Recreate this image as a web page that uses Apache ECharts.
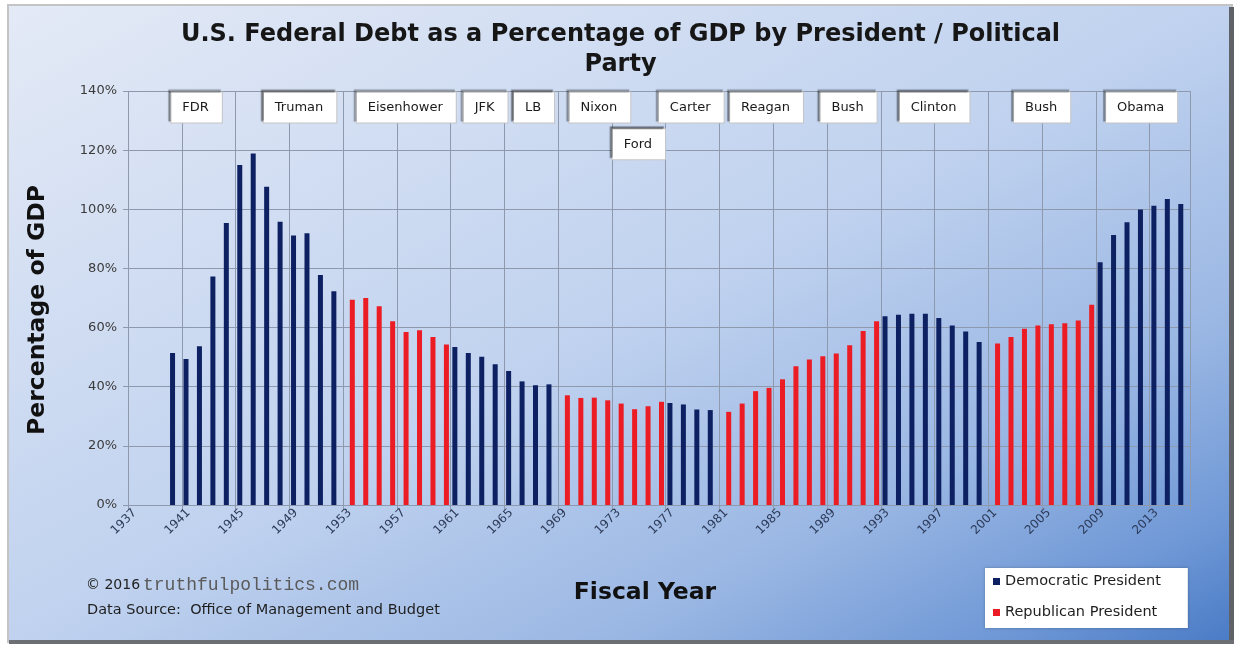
<!DOCTYPE html>
<html>
<head>
<meta charset="utf-8">
<script src="https://cdn.jsdelivr.net/npm/echarts@6/dist/echarts.min.js"></script>
<style>
html,body{margin:0;padding:0;background:#fff;}
#chart{width:1241px;height:646px;}
</style>
</head>
<body>
<div id="chart"></div>
<script>
// ---- DATA ----
const years = [1937,1938,1939,1940,1941,1942,1943,1944,1945,1946,1947,1948,1949,1950,1951,1952,
  1953,1954,1955,1956,1957,1958,1959,1960,1961,1962,1963,1964,1965,1966,1967,1968,
  1969,1970,1971,1972,1973,1974,1975,1976,1977,1978,1979,1980,1981,1982,1983,1984,
  1985,1986,1987,1988,1989,1990,1991,1992,1993,1994,1995,1996,1997,1998,1999,2000,
  2001,2002,2003,2004,2005,2006,2007,2008,2009,2010,2011,2012,2013,2014,2015];

// Gross federal debt, % of GDP
const debtPct = [null,null,null,
  51.4,49.4,53.7,77.3,95.4,115.0,118.9,107.6,95.8,91.1,91.9,77.8,72.3,
  69.4,70.0,67.2,62.1,58.5,59.1,56.8,54.3,
  53.4,51.4,50.1,47.6,45.3,41.8,40.5,40.8,
  37.1,36.2,36.3,35.4,34.3,32.4,33.4,34.9,
  34.5,34.0,32.3,32.1,
  31.5,34.3,38.5,39.6,42.5,46.9,49.2,50.3,51.2,54.0,58.8,62.1,
  63.8,64.3,64.7,64.7,63.2,60.7,58.7,55.1,
  54.6,56.8,59.6,60.7,61.1,61.5,62.4,67.7,
  82.1,91.3,95.6,99.9,101.2,103.5,101.8];

// Party of the president for each fiscal year (D / R, '-' = no bar)
const partyByYear = ('---' + 'DDDDDDDDDDDDD' + 'RRRRRRRR' + 'DDDDDDDD' + 'RRRRRRRR' +
  'DDDD' + 'RRRRRRRRRRRR' + 'DDDDDDDD' + 'RRRRRRRR' + 'DDDDDDD').split('');

const seriesNames = ['Democratic President', 'Republican President'];
const yTicks = [0, 20, 40, 60, 80, 100, 120, 140];

// President label boxes: name, position along the year scale, height on the % scale
const presNames = ['FDR','Truman','Eisenhower','JFK','LB','Nixon','Ford','Carter','Reagan','Bush','Clinton','Bush','Obama'];
const presYear  = [1941.6,1949.3,1957.2,1963.1,1966.7,1971.6,1974.5,1978.4,1984.0,1990.1,1996.5,2004.5,2011.9];
const presLevel = [134.4,134.4,134.4,134.4,134.4,134.4,122.0,134.4,134.4,134.4,134.4,134.4,134.4];

// ---- BUILD ----
const demVals = debtPct.map((v, i) => partyByYear[i] === 'D' ? v : null);
const repVals = debtPct.map((v, i) => partyByYear[i] === 'R' ? v : null);
const presData = presNames.map((n, i) => ({ value: [presYear[i], presLevel[i]], name: n }));

const NAVY = '#0c2062', RED = '#ec1c24', GRID = '#8e99ad';
const FONT = 'DejaVu Sans';

const chart = echarts.init(document.getElementById('chart'), null, { renderer: 'canvas' });

const bgGrad = new echarts.graphic.LinearGradient(8, 5, 529, 1007, [
  { offset: 0, color: '#e4eaf6' }, { offset: 0.5, color: '#c0d2ef' },
  { offset: 0.75, color: '#99b6e3' }, { offset: 0.9, color: '#6f98d6' },
  { offset: 1, color: '#4a7bc6' }], true);

const everyFourth = i => i % 4 === 0;

chart.setOption({
  animation: false,
  title: {
    text: 'U.S. Federal Debt as a Percentage of GDP by President / Political\nParty',
    left: 'center', top: 15,
    textStyle: { fontFamily: FONT, fontSize: 24, fontWeight: 'bold', color: '#161616', lineHeight: 30 }
  },
  graphic: [
    { type: 'rect', z: -100, shape: { x: 8, y: 5, width: 1224, height: 637 },
      style: { fill: bgGrad, stroke: '#c4c4c4', lineWidth: 2 } },
    { type: 'rect', z: -99, shape: { x: 1229, y: 7, width: 5, height: 637 }, style: { fill: '#5f6368' } },
    { type: 'rect', z: -99, shape: { x: 9, y: 640, width: 1225, height: 4 }, style: { fill: '#6c6f74' } },
    { type: 'text', x: 38, y: 310, rotation: Math.PI / 2,
      style: { text: 'Percentage of GDP', font: 'bold 23.5px "DejaVu Sans"', fill: '#111',
               align: 'center', verticalAlign: 'middle', textAlign: 'center', textVerticalAlign: 'middle' } },
    { type: 'text', x: 645, y: 593,
      style: { text: 'Fiscal Year', font: 'bold 23.5px "DejaVu Sans"', fill: '#111',
               align: 'center', verticalAlign: 'middle', textAlign: 'center', textVerticalAlign: 'middle' } },
    { type: 'text', x: 86, y: 585,
      style: { text: '© 2016', font: '14px "DejaVu Sans"', fill: '#222',
               align: 'left', verticalAlign: 'middle', textAlign: 'left', textVerticalAlign: 'middle' } },
    { type: 'text', x: 143, y: 585,
      style: { text: 'truthfulpolitics.com', font: '18px "Liberation Mono"', fill: '#5a5a5a',
               align: 'left', verticalAlign: 'middle', textAlign: 'left', textVerticalAlign: 'middle' } },
    { type: 'text', x: 87, y: 610,
      style: { text: 'Data Source:  Office of Management and Budget', font: '14.5px "DejaVu Sans"', fill: '#1e1e1e',
               align: 'left', verticalAlign: 'middle', textAlign: 'left', textVerticalAlign: 'middle' } }
  ],
  legend: {
    data: seriesNames,
    orient: 'vertical', left: 985, top: 568,
    padding: [6, 27, 8, 8], itemGap: 16,
    itemWidth: 7, itemHeight: 7, icon: 'rect',
    backgroundColor: '#ffffff',
    shadowColor: 'rgba(0,0,0,0.25)', shadowBlur: 3,
    textStyle: { fontFamily: FONT, fontSize: 14.5, color: '#1e1e1e' }
  },
  grid: { left: 128, right: 51, top: 91, bottom: 141 },
  xAxis: [
    {
      type: 'category', data: years, boundaryGap: true,
      axisLine: { show: true, lineStyle: { color: GRID } },
      axisTick: { show: true, interval: everyFourth, length: 5, lineStyle: { color: GRID } },
      axisLabel: { interval: 3, rotate: 45, margin: 6, fontFamily: FONT, fontSize: 12, color: '#2c3a58' },
      splitLine: { show: true, interval: everyFourth, lineStyle: { color: GRID, width: 1 } }
    },
    { type: 'value', min: 1936.5, max: 2015.5, show: false }
  ],
  yAxis: {
    type: 'value', min: yTicks[0], max: yTicks[yTicks.length - 1], interval: 20,
    axisLine: { show: false },
    axisTick: { show: true, length: 5, lineStyle: { color: GRID } },
    axisLabel: { formatter: '{value}%', margin: 11, fontFamily: FONT, fontSize: 13, color: '#3a3a3a' },
    splitLine: { show: true, lineStyle: { color: GRID, width: 1 } }
  },
  series: [
    { name: seriesNames[0], type: 'bar', data: demVals, barWidth: 5, barGap: '0%',
      itemStyle: { color: NAVY } },
    { name: seriesNames[1], type: 'bar', data: repVals, barWidth: 5, barGap: '0%',
      itemStyle: { color: RED } },
    { name: 'presidents', type: 'scatter', xAxisIndex: 1, data: presData,
      symbolSize: 1, itemStyle: { color: 'rgba(0,0,0,0)', opacity: 1 }, silent: true, z: 5,
      label: {
        show: true, position: 'inside', formatter: p => p.name,
        fontFamily: FONT, fontSize: 13, color: '#1a1a1a', opacity: 1,
        backgroundColor: '#ffffff', borderColor: '#c4c4c4', borderWidth: 1,
        padding: [7, 13, 10, 11],
        shadowColor: 'rgba(0,0,0,0.35)', shadowBlur: 1, shadowOffsetX: -2, shadowOffsetY: -2
      } }
  ]
});
</script>
</body>
</html>
